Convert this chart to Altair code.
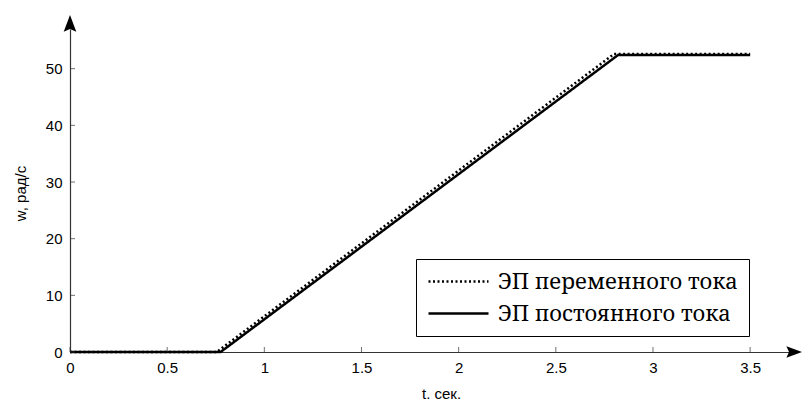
import altair as alt
import pandas as pd

series_names = ["ЭП переменного тока", "ЭП постоянного тока"]
t_ac = [0.0, 0.755, 2.80, 3.5]
w_ac = [0.0, 0.0, 52.6, 52.6]
t_dc = [0.0, 0.775, 2.82, 3.5]
w_dc = [0.0, 0.0, 52.4, 52.4]
x_ticks = [0, 0.5, 1, 1.5, 2, 2.5, 3, 3.5]
y_ticks = [0, 10, 20, 30, 40, 50]
x_max = 3.7
y_max = 57

df = pd.DataFrame({
    "t": t_ac + t_dc,
    "w": w_ac + w_dc,
    "series": [series_names[0]] * len(t_ac) + [series_names[1]] * len(t_dc),
})

AX = "#333333"
SERIF = "Noto Serif"
xscale = alt.Scale(domain=[0, x_max], nice=False, zero=False)
yscale = alt.Scale(domain=[0, y_max], nice=False, zero=False)

lines = alt.Chart(df).mark_line(color="black", strokeWidth=2.5, strokeCap="butt").encode(
    x=alt.X("t:Q", scale=xscale, axis=alt.Axis(
        values=x_ticks, format="~g", tickSize=0, grid=False, domainColor=AX, domainWidth=1.2,
        labelFont="Liberation Sans", labelFontSize=15, labelColor="black", labelPadding=8,
        labelFlush=False,
        title="t. сек.", titleFont="Liberation Sans", titleFontSize=15, titleFontWeight="normal",
        titleColor="black", titleX=371, titleY=41, titleBaseline="middle", titleAlign="center")),
    y=alt.Y("w:Q", scale=yscale, axis=alt.Axis(
        values=y_ticks, tickSize=0, grid=False, domainColor=AX, domainWidth=1.2,
        labelFont="Liberation Sans", labelFontSize=15, labelColor="black", labelPadding=8,
        title="w, рад/с", titleFont="Liberation Sans", titleFontSize=15, titleFontWeight="normal",
        titleColor="black", titleX=-50, titleY=164, titleAngle=-90,
        titleBaseline="middle", titleAlign="center")),
    strokeDash=alt.StrokeDash("series:N",
        scale=alt.Scale(domain=series_names, range=[[2, 2.5], [1, 0]]),
        legend=alt.Legend(title=None, orient="none", legendX=346, legendY=230,
            direction="vertical", labelFont=SERIF,
            labelFontSize=22, labelColor="black", labelLimit=0,
            symbolType="M-3,0L3,0", symbolSize=400, symbolOffset=20,
            symbolStrokeWidth=2.5, symbolStrokeColor="black", strokeColor="black",
            fillColor="white", padding=11, rowPadding=9, labelOffset=28)),
    detail="series:N",
)

xt = alt.Chart(pd.DataFrame({"t": x_ticks})).mark_tick(
    orient="vertical", size=5, thickness=1, color=AX, yOffset=-2.5
).encode(x=alt.X("t:Q", scale=xscale), y=alt.datum(0))

yt = alt.Chart(pd.DataFrame({"w": y_ticks})).mark_tick(
    orient="horizontal", size=5, thickness=1, color=AX, xOffset=2.5
).encode(y=alt.Y("w:Q", scale=yscale), x=alt.datum(0))

arrow_up = alt.Chart(pd.DataFrame({"a": [0]})).mark_point(
    shape="M0,-1L0.45,0.2L0,0L-0.45,0.2Z", size=784, filled=True, color="black", opacity=1
).encode(x=alt.datum(0), y=alt.datum(y_max))

arrow_right = alt.Chart(pd.DataFrame({"a": [0]})).mark_point(
    shape="M1,0L-0.2,0.45L0,0L-0.2,-0.45Z", size=676, filled=True, color="black", opacity=1
).encode(x=alt.datum(x_max), y=alt.datum(0))

chart = alt.layer(lines, xt, yt, arrow_up, arrow_right).properties(
    width=719, height=323,
    autosize=alt.AutoSizeParams(type="none"),
    padding={"left": 70, "top": 29, "right": 14, "bottom": 51},
    background="white",
).configure_view(stroke=None)

chart.save("out.html", embed_options={"renderer": "svg", "actions": False})
